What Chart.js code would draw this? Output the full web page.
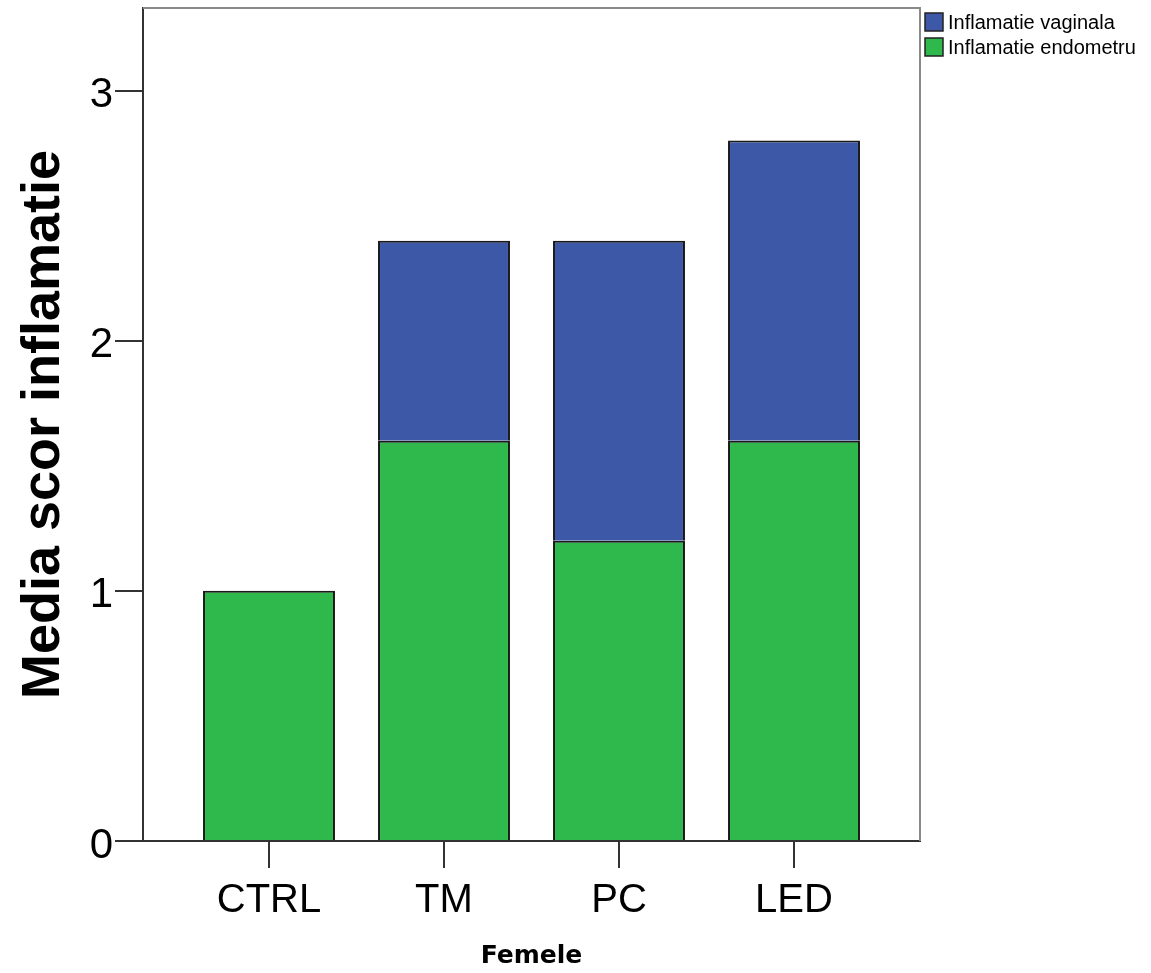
<!DOCTYPE html>
<html>
<head>
<meta charset="utf-8">
<script src="https://cdn.jsdelivr.net/npm/chart.js@4"></script>
<style>
  html, body { margin: 0; background: #fff; }
  #wrap { width: 1151px; height: 973px; }
</style>
</head>
<body>
<div id="wrap"><canvas id="myChart"></canvas></div>
<script>
// data
const categories = ["CTRL", "TM", "PC", "LED"];
const endometru = [1.0, 1.6, 1.2, 1.6];
const vaginala = [0, 0.8, 1.2, 1.2];
const yTicks = [0, 1, 2, 3];
const seriesNames = ["Inflamatie vaginala", "Inflamatie endometru"];

const blue = "#3e58a8";
const green = "#2fb84b";
const font = "'Liberation Sans', Arial, sans-serif";

// legend + plot frame drawn by hand (legend sits outside the plot box)
const framePlugin = {
  id: "frame",
  afterDraw(chart) {
    const { ctx, chartArea } = chart;
    ctx.save();
    ctx.strokeStyle = "#8a8a8a";
    ctx.lineWidth = 2;
    ctx.beginPath();
    ctx.moveTo(chartArea.left, chartArea.top);
    ctx.lineTo(chartArea.right, chartArea.top);
    ctx.lineTo(chartArea.right, chartArea.bottom);
    ctx.stroke();

    const items = [
      { text: seriesNames[0], color: blue },
      { text: seriesNames[1], color: green },
    ];
    ctx.font = "20px " + font;
    ctx.textBaseline = "middle";
    items.forEach((it, i) => {
      const y = 13 + i * 25;
      ctx.fillStyle = it.color;
      ctx.fillRect(925, y, 18, 18);
      ctx.strokeStyle = "#222";
      ctx.lineWidth = 1.5;
      ctx.strokeRect(925, y, 18, 18);
      ctx.fillStyle = "#000";
      ctx.fillText(it.text, 948, y + 10);
    });
    ctx.restore();
  },
};

const ctx = document.getElementById("myChart");
const myChart = new Chart(ctx, {
  type: "bar",
  data: {
    datasets: [
      {
        label: seriesNames[1],
        data: endometru.map((v, i) => ({ x: i + 1, y: v })),
        backgroundColor: green,
        borderColor: "#1a1a1a",
        borderWidth: 2,
      },
      {
        label: seriesNames[0],
        data: vaginala.map((v, i) => ({ x: i + 1, y: v })),
        backgroundColor: blue,
        borderColor: "#1a1a1a",
        borderWidth: 2,
      },
    ],
  },
  options: {
    responsive: true,
    maintainAspectRatio: false,
    animation: false,
    layout: { padding: { top: 8, right: 231, left: 0, bottom: 0 } },
    barPercentage: 0.754,
    categoryPercentage: 1,
    plugins: {
      legend: { display: false },
      tooltip: { enabled: false },
    },
    scales: {
      x: {
        type: "linear",
        stacked: true,
        offset: false,
        min: 0.28,
        max: 4.72,
        afterBuildTicks: (s) => {
          s.ticks = categories.map((c, i) => ({ value: i + 1 }));
        },
        afterFit: (s) => {
          s.height = 132;
          s.paddingLeft = 0;
          s.paddingRight = 0;
        },
        grid: { offset: false, drawOnChartArea: false, drawTicks: true, tickLength: 27, color: "#333", lineWidth: 2 },
        border: { display: true, color: "#333", width: 2 },
        ticks: {
          color: "#000",
          padding: 9,
          font: { size: 40, family: font },
          callback: (v) => categories[v - 1] || "",
        },
        title: {
          display: true,
          text: "Femele",
          color: "#000",
          font: { size: 25, weight: "bold", family: "'DejaVu Sans', sans-serif" },
          padding: { top: 0, bottom: 2 },
        },
      },
      y: {
        stacked: true,
        min: 0,
        max: 3.33,
        afterBuildTicks: (s) => {
          s.ticks = yTicks.map((v) => ({ value: v }));
        },
        afterFit: (s) => {
          s.width = 143;
          s.paddingTop = 0;
          s.paddingBottom = 0;
        },
        grid: { drawOnChartArea: false, drawTicks: true, tickLength: 28, color: "#333", lineWidth: 2 },
        border: { display: true, color: "#333", width: 2 },
        ticks: {
          color: "#000",
          padding: 2,
          labelOffset: 5,
          font: { size: 42, family: font },
        },
        title: {
          display: true,
          text: "Media scor inflamatie",
          color: "#000",
          font: { size: 54, weight: "bold", family: font },
          padding: { top: 12, bottom: 0 },
        },
      },
    },
  },
  plugins: [framePlugin],
});
</script>
</body>
</html>
